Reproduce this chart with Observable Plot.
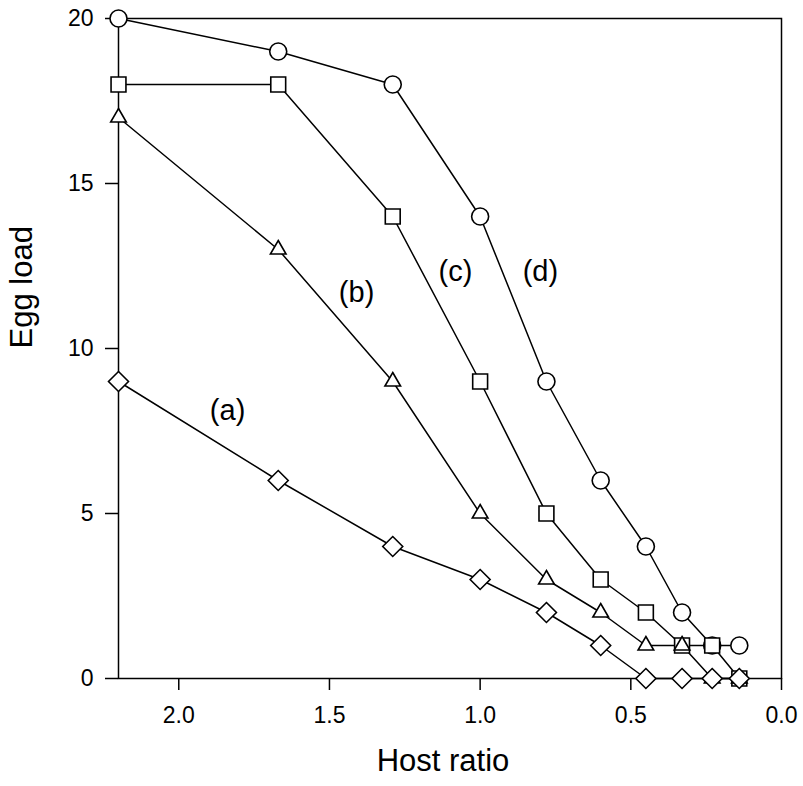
<!DOCTYPE html>
<html>
<head>
<meta charset="utf-8">
<script src="https://cdn.jsdelivr.net/npm/d3@7"></script>
<script src="https://cdn.jsdelivr.net/npm/@observablehq/plot@0.6"></script>
<style>
  html, body { margin: 0; padding: 0; background: #fff; }
  #chart svg { display: block; }
</style>
</head>
<body>
<div id="chart"></div>
<script>
// Host ratio (x) shared by all four curves
const hostRatio = [2.2, 1.67, 1.29, 1.0, 0.78, 0.6, 0.45, 0.33, 0.23, 0.14];
// Egg load per curve
const eggA = [9, 6, 4, 3, 2, 1, 0, 0, 0, 0];      // diamonds
const eggB = [17, 13, 9, 5, 3, 2, 1, 1, 0, 0];    // triangles
const eggC = [18, 18, 14, 9, 5, 3, 2, 1, 1, 0];   // squares
const eggD = [20, 19, 18, 14, 9, 6, 4, 2, 1, 1];  // circles

const xTicks = [2.0, 1.5, 1.0, 0.5, 0.0];
const yTicks = [0, 5, 10, 15, 20];

const labelText = ["(a)", "(b)", "(c)", "(d)"];
const labelX = [1.838, 1.41, 1.082, 0.80];
const labelY = [8.1, 11.7, 12.33, 12.33];

const font = "'Liberation Sans', Arial, Helvetica, sans-serif";

const rows = (ys) => hostRatio.map((x, i) => ({x, y: ys[i]}));
const dA = rows(eggA), dB = rows(eggB), dC = rows(eggC), dD = rows(eggD);
const labels = labelText.map((t, i) => ({t, x: labelX[i], y: labelY[i]}));

const lineOpts = {x: "x", y: "y", stroke: "black", strokeWidth: 1.5};
const dotOpts = (symbol, r) => ({x: "x", y: "y", symbol, r, fill: "white", stroke: "black", strokeWidth: 1.6});

const chart = Plot.plot({
  width: 803,
  height: 786,
  marginLeft: 118,
  marginRight: 22,
  marginTop: 18,
  marginBottom: 108,
  style: {fontFamily: font, fontSize: "23px", color: "black", background: "white"},
  x: {domain: [2.2, 0], ticks: xTicks},
  y: {domain: [0, 20], ticks: yTicks},
  marks: [
    Plot.frame({stroke: "black", strokeWidth: 1.5}),
    Plot.axisX({ticks: xTicks, tickSize: 12, tickPadding: 16, tickFormat: d3.format(".1f"), label: null, strokeWidth: 1.5}),
    Plot.axisY({ticks: yTicks, tickSize: 13, tickPadding: 12, label: null, strokeWidth: 1.5}),
    Plot.text(["Host ratio"], {frameAnchor: "bottom", dy: 92, dx: -7, fontSize: 31, text: d => d}),
    Plot.text(["Egg load"], {frameAnchor: "left", dx: -96, rotate: -90, fontSize: 31, text: d => d}),
    Plot.line(dD, lineOpts),
    Plot.line(dC, lineOpts),
    Plot.line(dB, lineOpts),
    Plot.line(dA, lineOpts),
    Plot.dot(dD, dotOpts("circle", 8.5)),
    Plot.dot(dC, dotOpts("square", 8.4)),
    Plot.dot(dB, dotOpts("triangle", 5.8)),
    Plot.dot(dA, dotOpts("diamond2", 9)),
    Plot.text(labels, {x: "x", y: "y", text: "t", fontSize: 29})
  ]
});
document.getElementById("chart").appendChild(chart);
</script>
</body>
</html>
